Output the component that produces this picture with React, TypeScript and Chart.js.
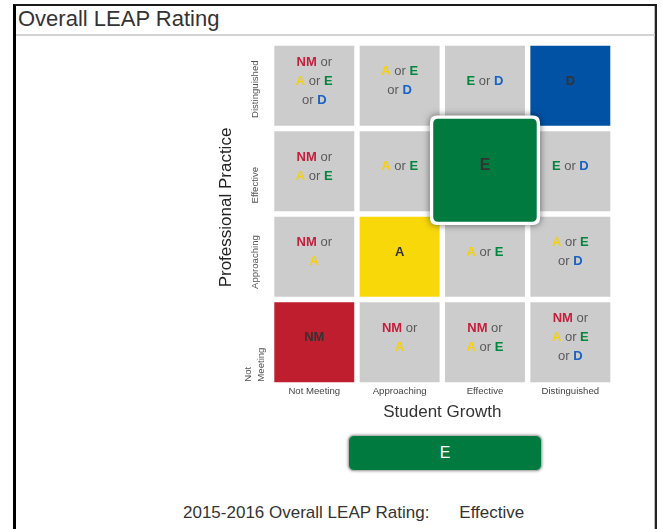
import React, { useEffect, useRef } from 'react';
import { Chart, registerables } from 'chart.js';

Chart.register(...registerables);

// ---------- data ----------
const growthLevels = ['Not Meeting', 'Approaching', 'Effective', 'Distinguished'];
// rows listed bottom → top
const practiceLevels = ['Not Meeting', 'Approaching', 'Effective', 'Distinguished'];
const practiceTickLabels = [['Not', 'Meeting'], ['Approaching'], ['Effective'], ['Distinguished']];
const ratingCodes = ['NM', 'A', 'E', 'D'];

const rowNotMeeting = ['NM', 'NM or|A', 'NM or|A or E', 'NM or|A or E|or D'];
const rowApproaching = ['NM or|A', 'A', 'A or E', 'A or E|or D'];
const rowEffective = ['NM or|A or E', 'A or E', 'E', 'E or D'];
const rowDistinguished = ['NM or|A or E|or D', 'A or E|or D', 'E or D', 'D'];
const cellRows = [rowNotMeeting, rowApproaching, rowEffective, rowDistinguished];

const selectedGrowth = 'Effective';
const selectedPractice = 'Effective';
const overallCode = 'E';
const overallRating = 'Effective';
const ratingYear = '2015-2016';

// ---------- styles ----------
const FONT = "'Liberation Sans', Arial, sans-serif";
const GRAY = '#CCCCCC';
const fillColors: Record<string, string> = { NM: '#BE1E2D', A: '#F8D808', E: '#007A3F', D: '#0152A5' };
const textColors: Record<string, string> = { NM: '#C41E3A', A: '#F5D10A', E: '#00873F', D: '#1762C4' };

const cellFill = (txt: string) => (ratingCodes.includes(txt) ? fillColors[txt] : GRAY);

function roundRectPath(ctx: CanvasRenderingContext2D, x: number, y: number, w: number, h: number, r: number) {
  ctx.beginPath();
  ctx.moveTo(x + r, y);
  ctx.lineTo(x + w - r, y);
  ctx.quadraticCurveTo(x + w, y, x + w, y + r);
  ctx.lineTo(x + w, y + h - r);
  ctx.quadraticCurveTo(x + w, y + h, x + w - r, y + h);
  ctx.lineTo(x + r, y + h);
  ctx.quadraticCurveTo(x, y + h, x, y + h - r);
  ctx.lineTo(x, y + r);
  ctx.quadraticCurveTo(x, y, x + r, y);
  ctx.closePath();
}

function drawCellText(ctx: CanvasRenderingContext2D, txt: string, cx: number, cy: number, size: number) {
  const solid = ratingCodes.includes(txt);
  const lines = txt.split('|');
  const lh = 19;
  ctx.textBaseline = 'middle';
  ctx.textAlign = 'left';
  lines.forEach((line, i) => {
    const tokens = line.split(' ');
    const fontFor = (t: string) => (ratingCodes.includes(t) ? `bold ${size}px ${FONT}` : `${size}px ${FONT}`);
    ctx.font = `${size}px ${FONT}`;
    const space = ctx.measureText(' ').width;
    const widths = tokens.map((t) => {
      ctx.font = fontFor(t);
      return ctx.measureText(t).width;
    });
    const total = widths.reduce((a, b) => a + b, 0) + space * (tokens.length - 1);
    let x = cx - total / 2;
    const y = cy + (i - (lines.length - 1) / 2) * lh;
    tokens.forEach((t, k) => {
      ctx.font = fontFor(t);
      ctx.fillStyle = solid ? '#333333' : ratingCodes.includes(t) ? textColors[t] : '#5a5a5a';
      ctx.fillText(t, x, y);
      x += widths[k] + space;
    });
  });
}

const matrixPlugin = {
  id: 'matrixText',
  afterDatasetsDraw(chart: any) {
    const ctx: CanvasRenderingContext2D = chart.ctx;
    const area = chart.chartArea;
    const yScale = chart.scales.y;
    const selR = practiceLevels.indexOf(selectedPractice);
    const selC = growthLevels.indexOf(selectedGrowth);

    ctx.save();
    // cell texts
    cellRows.forEach((row, r) => {
      const meta = chart.getDatasetMeta(r);
      row.forEach((txt, c) => {
        if (r === selR && c === selC) return;
        const bar = meta.data[c].getProps(['x', 'y', 'base'], true);
        drawCellText(ctx, txt, bar.x, (bar.y + bar.base) / 2 - 4.5, 13);
      });
    });

    // highlighted (selected) cell
    const sel = chart.getDatasetMeta(selR).data[selC].getProps(['x', 'y', 'base', 'width'], true);
    const w = sel.width * 1.29;
    const h = (sel.base - sel.y) * 1.28;
    const cx = sel.x;
    const cy = (sel.y + sel.base) / 2 - 1;
    ctx.save();
    ctx.shadowColor = 'rgba(0,0,0,0.55)';
    ctx.shadowBlur = 7;
    ctx.fillStyle = '#ffffff';
    roundRectPath(ctx, cx - w / 2, cy - h / 2, w, h, 7);
    ctx.fill();
    ctx.restore();
    ctx.fillStyle = fillColors[cellRows[selR][selC]];
    roundRectPath(ctx, cx - w / 2 + 3.3, cy - h / 2 + 3.3, w - 6.6, h - 6.6, 5);
    ctx.fill();
    ctx.font = `bold 16px ${FONT}`;
    ctx.fillStyle = '#333333';
    ctx.textAlign = 'center';
    ctx.textBaseline = 'middle';
    ctx.fillText(cellRows[selR][selC], cx, cy - 4.5);

    // y tick labels (rotated)
    ctx.font = `9.6px ${FONT}`;
    ctx.fillStyle = '#555555';
    ctx.textAlign = 'left';
    ctx.textBaseline = 'middle';
    practiceTickLabels.forEach((lines, r) => {
      const bottom = yScale.getPixelForValue(r);
      const start = lines.length > 1 ? bottom - 3.3 : bottom - 10.5;
      const xc = area.left - 16.7;
      ctx.save();
      ctx.translate(xc, start);
      ctx.rotate(-Math.PI / 2);
      lines.forEach((ln, i) => {
        ctx.fillText(ln, 0, (i - (lines.length - 1) / 2) * 13.4);
      });
      ctx.restore();
    });

    // y axis title
    ctx.save();
    ctx.font = `17px ${FONT}`;
    ctx.fillStyle = '#222222';
    ctx.textAlign = 'center';
    ctx.textBaseline = 'middle';
    ctx.translate(area.left - 45.6, (area.top + area.bottom) / 2 - 6.5);
    ctx.rotate(-Math.PI / 2);
    ctx.fillText('Professional Practice', 0, 0);
    ctx.restore();

    ctx.restore();
  },
};

export default function App() {
  const canvasRef = useRef<HTMLCanvasElement | null>(null);

  useEffect(() => {
    const canvas = canvasRef.current;
    if (!canvas) return;
    const chart = new Chart(canvas, {
      type: 'bar',
      data: {
        labels: growthLevels,
        datasets: cellRows.map((row, r) => ({
          label: practiceLevels[r],
          data: row.map(() => [r, r + 1]),
          backgroundColor: row.map(cellFill),
          borderColor: '#ffffff',
          borderWidth: 2.7,
          borderSkipped: false,
          grouped: false,
          barPercentage: 1,
          categoryPercentage: 1,
          inflateAmount: 0,
        })) as any,
      },
      options: {
        animation: false,
        responsive: false,
        events: [],
        layout: { padding: { left: 271.6, right: 49, top: 43, bottom: 9.2 } },
        plugins: {
          legend: { display: false },
          tooltip: { enabled: false },
          title: { display: false },
        },
        scales: {
          x: {
            grid: { display: false, drawTicks: false },
            border: { display: false },
            ticks: { color: '#444444', font: { size: 9.6, family: FONT }, padding: 1, maxRotation: 0 },
            title: {
              display: true,
              text: 'Student Growth',
              color: '#333333',
              font: { size: 17, family: FONT, lineHeight: 1 },
              padding: { top: 0, bottom: 0 },
            },
            afterFit: (s: any) => {
              s.height = 35.8;
            },
          },
          y: { display: false, min: 0, max: 4 },
        },
      } as any,
      plugins: [matrixPlugin],
    });
    return () => chart.destroy();
  }, []);

  return (
    <div style={{ position: 'absolute', left: 0, top: 0, width: 662, height: 529, overflow: 'hidden', fontFamily: FONT, background: '#fff' }}>
      <div
        style={{
          position: 'absolute',
          left: 13,
          top: 3.5,
          width: 644,
          height: 530,
          boxSizing: 'border-box',
          borderLeft: '3px solid #000',
          borderTop: '2px solid #1a1a1a',
          borderRight: '2px solid #222',
          boxShadow: 'inset -1px 0 0 #bbb',
        }}
      />
      <div style={{ position: 'absolute', left: 18, top: 5.5, fontSize: 22, lineHeight: '26px', color: '#333', whiteSpace: 'nowrap' }}>
        Overall LEAP Rating
      </div>
      <div style={{ position: 'absolute', left: 16, top: 34, width: 639, height: 1.5, background: '#d2d2d2' }} />
      <canvas ref={canvasRef} width={662} height={430} style={{ position: 'absolute', left: 0, top: 0, display: 'block' }} />
      <div
        style={{
          position: 'absolute',
          left: 348,
          top: 435,
          width: 194,
          height: 36,
          boxSizing: 'border-box',
          borderRadius: 6,
          background: '#007A3F',
          border: '1.5px solid #b5b5b5',
          boxShadow: '0 0 3px rgba(0,0,0,0.45)',
          color: '#fff',
          fontSize: 16,
          display: 'flex',
          alignItems: 'center',
          justifyContent: 'center',
        }}
      >
        {overallCode}
      </div>
      <div style={{ position: 'absolute', left: 183, top: 503.4, fontSize: 17, lineHeight: '20px', color: '#333', whiteSpace: 'nowrap' }}>
        {ratingYear} Overall LEAP Rating:
      </div>
      <div style={{ position: 'absolute', left: 459.3, top: 503.4, fontSize: 17, lineHeight: '20px', color: '#333', whiteSpace: 'nowrap' }}>
        {overallRating}
      </div>
    </div>
  );
}
